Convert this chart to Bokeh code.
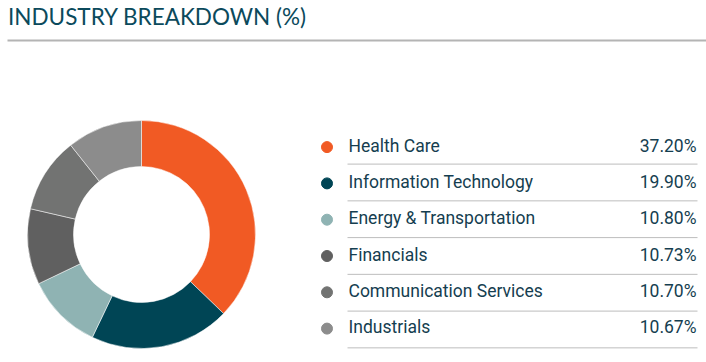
import math
from bokeh.plotting import figure
from bokeh.models import ColumnDataSource, Range1d
from bokeh.core.properties import value
from bokeh.embed import file_html
from bokeh.resources import INLINE

# ---- data ----
categories = ["Health Care", "Information Technology", "Energy & Transportation",
              "Financials", "Communication Services", "Industrials"]
percentages = [37.20, 19.90, 10.80, 10.73, 10.70, 10.67]
value_labels = ["37.20%", "19.90%", "10.80%", "10.73%", "10.70%", "10.67%"]
colors = ["#F15A24", "#004555", "#8FB3B3", "#606060", "#727372", "#8C8C8C"]
title_text = "INDUSTRY BREAKDOWN (%)"

W, H = 706, 362
p = figure(width=W, height=H, output_backend="svg", toolbar_location=None,
           x_range=Range1d(0, W), y_range=Range1d(0, H), min_border=0)
p.axis.visible = False
p.grid.visible = False
p.outline_line_color = None
p.background_fill_color = "white"
p.border_fill_color = "white"


def py(page_y):
    # convert window y to data y
    return H - page_y


def px(page_x):
    return page_x


# ---- title and rule ----
p.text(x=[px(7.5)], y=[py(16)], text=[title_text], text_font=value("Lato"),
       text_font_size="22.5px", text_color="#0B4A5C", text_baseline="middle",
       text_align="left")
p.segment(x0=[px(7)], y0=[py(40)], x1=[px(706)], y1=[py(40)],
          line_color="#B4B4B4", line_width=2)

# ---- donut ----
total = sum(percentages)
starts, ends = [], []
acc = 0.0
for v in percentages:
    a0 = math.pi / 2 - 2 * math.pi * acc / total
    acc += v
    a1 = math.pi / 2 - 2 * math.pi * acc / total
    starts.append(a0)
    ends.append(a1)

src = ColumnDataSource(dict(start=starts, end=ends, color=colors, cat=categories))
p.annular_wedge(x=px(141), y=py(234), inner_radius=68, outer_radius=114,
                start_angle="start", end_angle="end", direction="clock",
                fill_color="color", line_color="white", line_width=0.5,
                source=src)

# ---- legend table ----
n = len(categories)
row_y = [146.6 + i * 36.3 for i in range(n)]
sep_rows = [163.6 + i * 36.75 for i in range(n)]
leg = ColumnDataSource(dict(
    dot_x=[px(326.5)] * n,
    dot_y=[py(y) for y in row_y],
    lab_x=[px(348)] * n,
    val_x=[px(696)] * n,
    mid_y=[py(y - 1.5) for y in row_y],
    sep_y=[py(y) for y in sep_rows],
    sep_x0=[px(347)] * n,
    sep_x1=[px(697)] * n,
    cat=categories, val=value_labels, color=colors,
))
p.scatter(x="dot_x", y="dot_y", size=11, fill_color="color", line_color="color",
          source=leg)
p.text(x="lab_x", y="mid_y", text="cat", text_font=value("Roboto"),
       text_font_size="17.5px", text_color="#153E50", text_baseline="middle",
       text_align="left", source=leg)
p.text(x="val_x", y="mid_y", text="val", text_font=value("Roboto"),
       text_font_size="17.5px", text_color="#153E50", text_baseline="middle",
       text_align="right", source=leg)
p.segment(x0="sep_x0", y0="sep_y", x1="sep_x1", y1="sep_y",
          line_color="#BDBDBD", line_width=1, source=leg)

open("out.html", "w").write(file_html(p, INLINE))
